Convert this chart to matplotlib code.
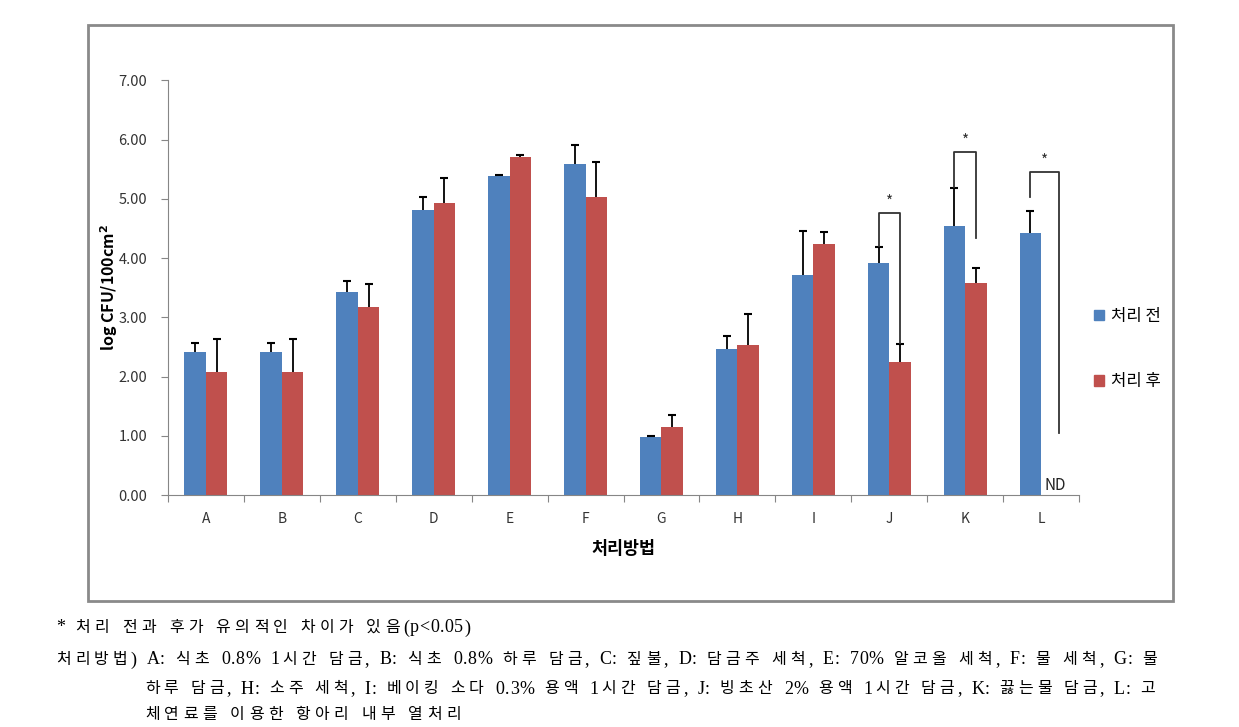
import matplotlib
matplotlib.use('Agg')
import matplotlib.pyplot as plt
from matplotlib.patches import Rectangle, Patch
import numpy as np

plt.rcParams['font.family'] = ['Noto Sans CJK KR', 'DejaVu Sans']

# Data
categories = ['A', 'B', 'C', 'D', 'E', 'F', 'G', 'H', 'I', 'J', 'K', 'L']
before = [2.41, 2.41, 3.43, 4.82, 5.38, 5.59, 0.98, 2.47, 3.72, 3.91, 4.54, 4.43]
before_err = [0.16, 0.16, 0.18, 0.22, 0.02, 0.32, 0.02, 0.21, 0.74, 0.28, 0.65, 0.37]
after = [2.07, 2.07, 3.18, 4.93, 5.71, 5.03, 1.15, 2.54, 4.24, 2.25, 3.58, 0.0]
after_err = [0.57, 0.57, 0.39, 0.43, 0.04, 0.60, 0.20, 0.51, 0.20, 0.30, 0.26, 0.0]

# significance brackets: category, left foot, top, right foot
sig_cats = ['J', 'K', 'L']
sig_left = [4.20, 5.20, 5.03]
sig_top = [4.76, 5.79, 5.46]
sig_right = [2.56, 4.34, 1.05]

notes = [
    '* 처리 전과 후가 유의적인 차이가 있음(p<0.05)',
    '처리방법) A: 식초 0.8% 1시간 담금, B: 식초 0.8% 하루 담금, C: 짚불, D: 담금주 세척, E: 70% 알코올 세척, F: 물 세척, G: 물',
    '하루 담금, H: 소주 세척, I: 베이킹 소다 0.3% 용액 1시간 담금, J: 빙초산 2% 용액 1시간 담금, K: 끓는물 담금, L: 고',
    '체연료를 이용한 항아리 내부 열처리',
]

blue = '#4f81bd'
red = '#c0504d'
axis_gray = '#868686'

fig = plt.figure(figsize=(12.39, 7.27), dpi=100)
ax = fig.add_axes([0.1356, 0.3191, 0.7353, 0.5702])

x = np.arange(len(categories)) + 0.5
w = 0.283
ax.bar(x - w / 2, before, w, color=blue, zorder=2)
ax.bar(x + w / 2, after, w, color=red, zorder=2)

# upper-only error bars
for xs, vals, errs in [(x - w / 2, before, before_err), (x + w / 2, after, after_err)]:
    for xi, v, e in zip(xs, vals, errs):
        if v <= 0:
            continue
        ax.vlines(xi, v, v + e, color='black', lw=1.3, zorder=3)
        ax.plot(xi, v + e, marker='_', ms=6, mew=1.5, color='black', zorder=3)

# brackets
for c, yl, yt, yr in zip(sig_cats, sig_left, sig_top, sig_right):
    i = categories.index(c)
    xl = x[i] - w / 2
    xr = x[i] + w / 2 if c != 'L' else x[i] + 0.24
    ax.plot([xl, xl, xr, xr], [yl, yt, yt, yr], color='#333333', lw=1.3, zorder=4)
    ax.text((xl + xr) / 2, yt + 0.04, '*', ha='center', va='bottom', fontsize=11, color='#333333')

ax.text(x[-1] + w / 2 - 0.1, 0.02, 'ND', ha='left', va='bottom', fontsize=11, color='#222222')

ax.set_xlim(0, len(categories))
ax.set_ylim(0, 7)
ax.set_yticks(np.arange(0, 8, 1))
ax.set_yticklabels(['%.2f' % v for v in np.arange(0, 8, 1)], fontsize=10.5, color='#333333')
ax.set_xticks(np.arange(0, len(categories) + 1))
ax.set_xticklabels([])
ax.set_xticks(x, minor=True)
ax.set_xticklabels(categories, minor=True, fontsize=10, color='#333333')
ax.tick_params(axis='x', which='minor', length=0, pad=12)
ax.tick_params(axis='x', which='major', length=5, color=axis_gray, direction='out')
ax.tick_params(axis='y', length=5, color=axis_gray, direction='out', pad=10)

for s in ['top', 'right']:
    ax.spines[s].set_visible(False)
ax.spines['left'].set_color(axis_gray)
ax.spines['bottom'].set_color(axis_gray)

ax.set_xlabel('처리방법', fontsize=12.5, fontweight='bold', labelpad=10)
ax.set_ylabel('log CFU/100cm$^\\mathbf{2}$', fontsize=11.5, fontweight='bold')
ax.yaxis.set_label_coords(-0.053, 0.5)

handles = [Patch(color=blue), Patch(color=red)]
fig.legend(handles, ['처리 전', '처리 후'], loc='center left', bbox_to_anchor=(0.871, 0.52),
           frameon=False, fontsize=12, handlelength=0.6, handleheight=0.6,
           handletextpad=0.4, labelspacing=2.9)

# outer frame
fig.patches.append(Rectangle((0.071, 0.173), 0.876, 0.792, transform=fig.transFigure,
                             fill=False, edgecolor='#8a8a8a', linewidth=2))

# footnotes, spread out to the line widths of the original
note_family = ['Liberation Serif', 'Noto Sans CJK KR']
hangul_fs = 11.5
latin_fs = 13
line_x = [(56, 470), (56, 1157), (145, 1155), (145, 461)]
line_y = [628, 660, 689, 715]


def is_hangul(ch):
    return '\uac00' <= ch <= '\ud7a3'


renderer = fig.canvas.get_renderer()
for s, (x0, x1), yy in zip(notes, line_x, line_y):
    widths = []
    sizes = []
    for ch in s:
        fs = hangul_fs if is_hangul(ch) else latin_fs
        sizes.append(fs)
        if ch == ' ':
            widths.append(hangul_fs * 0.35)
            continue
        t = fig.text(0, 0, ch, fontsize=fs, family=note_family)
        widths.append(t.get_window_extent(renderer).width)
        t.remove()
    weights = []
    for a, b in zip(s[:-1], s[1:]):
        if a == ' ':
            weights.append(1.3)
        elif is_hangul(a) and is_hangul(b):
            weights.append(1.0)
        elif is_hangul(a) or is_hangul(b):
            weights.append(0.7)
        else:
            weights.append(0.15)
    extra = (x1 - x0 - sum(widths)) / sum(weights)
    pos = x0
    for k, ch in enumerate(s):
        if ch != ' ':
            fig.text(pos / 1239, 1 - yy / 727, ch, fontsize=sizes[k], family=note_family,
                     va='center', ha='left')
        pos += widths[k] + (extra * weights[k] if k < len(weights) else 0)

fig.savefig('out.png', dpi=100)
